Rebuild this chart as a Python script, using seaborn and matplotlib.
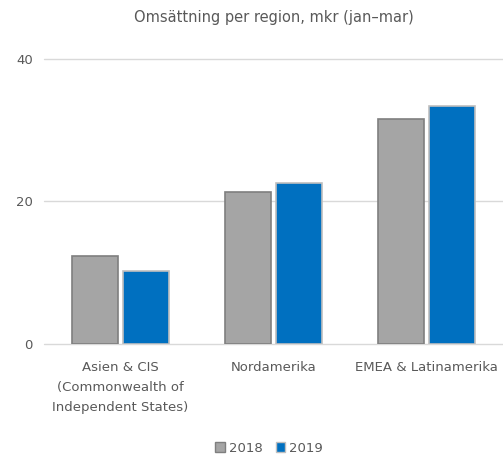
import pandas as pd
import matplotlib
matplotlib.use('Agg')
import matplotlib.pyplot as plt
import seaborn as sns

regions = ['Asien & CIS\n(Commonwealth of\nIndependent States)', 'Nordamerika', 'EMEA & Latinamerika']
years = ['2018', '2019']
sales_2018 = [12.3, 21.3, 31.5]
sales_2019 = [10.2, 22.5, 33.3]
yticks = [0, 20, 40]

TEXT = '#595959'
GRID = '#D9D9D9'

df = pd.DataFrame({
    'region': regions * 2,
    'year': [years[0]] * 3 + [years[1]] * 3,
    'value': sales_2018 + sales_2019,
})

sns.set_style('white')
plt.rcParams['font.family'] = ['DejaVu Sans']

fig = plt.figure(figsize=(5.03, 4.55), dpi=100)
ax = fig.add_axes([44 / 503, 111 / 455, 459 / 503, 285.5 / 455])

sns.barplot(data=df, x='region', y='value', hue='year', order=regions, hue_order=years,
            palette={'2018': '#A5A5A5', '2019': '#0070C0'}, width=0.667, gap=0.1,
            saturation=1, ax=ax, legend=True)

edges = {'2018': '#7F7F7F', '2019': '#BFBFBF'}
for cont, yr in zip(ax.containers, years):
    for p in cont.patches:
        p.set_edgecolor(edges[yr])
        p.set_linewidth(1.2)

ax.set_xlim(-0.5, 2.5)
ax.set_ylim(0, 40)
ax.set_yticks(yticks)
ax.yaxis.grid(True, color=GRID, linewidth=1)
for gl in ax.yaxis.get_gridlines():
    gl.set_clip_on(False)
ax.set_axisbelow(True)
for s in ax.spines.values():
    s.set_visible(False)
ax.tick_params(axis='both', length=0, colors=TEXT, labelsize=9.5)
ax.tick_params(axis='y', pad=8)
ax.tick_params(axis='x', pad=12)
ax.set_xlabel('')
ax.set_ylabel('')
for lbl in ax.get_xticklabels():
    lbl.set_linespacing(1.7)

ax.set_title('Omsättning per region, mkr (jan\u2013mar)', color=TEXT, fontsize=10.5, pad=26)

leg = ax.legend(loc='upper center', bbox_to_anchor=(0.49, -0.3), ncol=2, frameon=False,
                fontsize=9.5, labelcolor=TEXT, handlelength=0.75, handleheight=0.75,
                handletextpad=0.25, columnspacing=1.0)
for h, yr in zip(leg.legend_handles, years):
    h.set_edgecolor(edges[yr])

fig.savefig('out.png', dpi=100)
